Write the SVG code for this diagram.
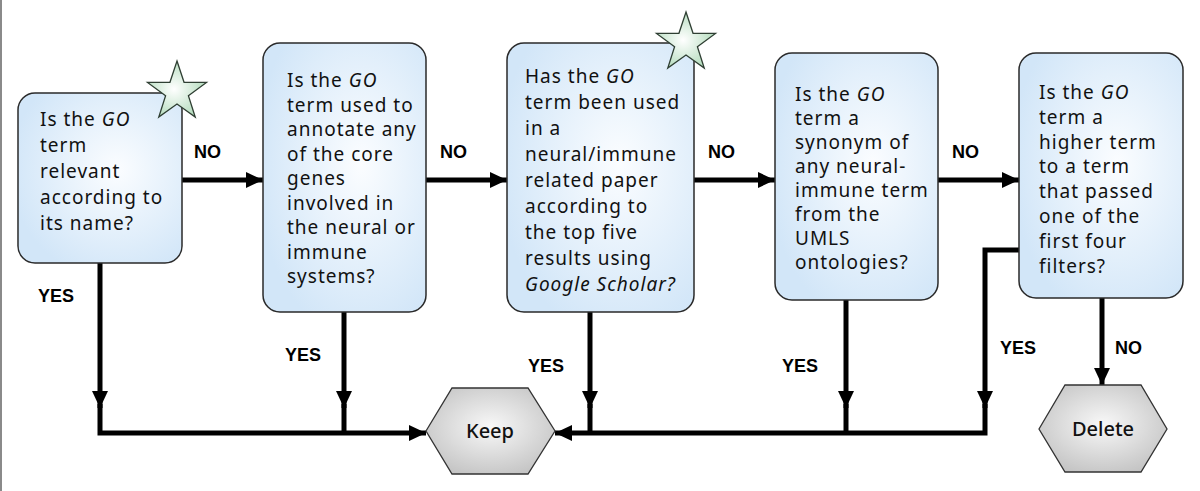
<svg xmlns="http://www.w3.org/2000/svg" width="1200" height="491" viewBox="0 0 1200 491">
<defs>
<radialGradient id="boxg" cx="60%" cy="45%" r="65%">
<stop offset="0" stop-color="#fbfdff"/>
<stop offset="1" stop-color="#d2e6f8"/>
</radialGradient>
<radialGradient id="hexg" cx="50%" cy="45%" r="60%">
<stop offset="0" stop-color="#f8f8f8"/>
<stop offset="1" stop-color="#c4c4c4"/>
</radialGradient>
<radialGradient id="starg" cx="45%" cy="50%" r="55%">
<stop offset="0" stop-color="#ffffff"/>
<stop offset="1" stop-color="#b4dcbd"/>
</radialGradient>
<marker id="ah" markerWidth="17" markerHeight="16" refX="17" refY="8" orient="auto" markerUnits="userSpaceOnUse">
<path d="M0,0 L17,8 L0,16 z" fill="#000"/>
</marker>
<polygon id="star" points="0,-31 7.05,-9.71 29.48,-9.58 11.41,3.71 18.22,25.08 0,12 -18.22,25.08 -11.41,3.71 -29.48,-9.58 -7.05,-9.71"/>
</defs>
<style>
.box{fill:url(#boxg);stroke:#2a2a2a;stroke-width:1.5}
.hex{fill:url(#hexg);stroke:#333;stroke-width:1.3}
.star{fill:url(#starg);stroke:#2f3f33;stroke-width:1.3;stroke-linejoin:miter}
.t{font-family:"Noto Sans","DejaVu Sans",sans-serif;font-size:19px;letter-spacing:1px;fill:#111}
.i{font-style:italic}
.lbl{font-family:"Liberation Sans",Arial,sans-serif;font-size:18px;font-weight:bold;fill:#000}
.ht{font-family:"Noto Sans","DejaVu Sans",sans-serif;font-size:20px;font-weight:500;fill:#111;text-anchor:middle}
.c{fill:none;stroke:#000;stroke-width:5;stroke-linejoin:miter;stroke-linecap:butt}
</style>
<rect x="0" y="0" width="1200" height="491" fill="#fff"/>
<line x1="1" y1="0" x2="1" y2="491" stroke="#8a8a8a" stroke-width="2"/>

<g id="connectors">
<path class="c" d="M182,180 H263" marker-end="url(#ah)"/>
<path class="c" d="M426,180 H507" marker-end="url(#ah)"/>
<path class="c" d="M694,180 H775" marker-end="url(#ah)"/>
<path class="c" d="M938,180 H1019" marker-end="url(#ah)"/>
<path class="c" d="M100,263 V408" marker-end="url(#ah)"/>
<path class="c" d="M100,404 V433 H426" marker-end="url(#ah)"/>
<path class="c" d="M344,312 V408" marker-end="url(#ah)"/>
<path class="c" d="M344,404 V433"/>
<path class="c" d="M590,312 V408" marker-end="url(#ah)"/>
<path class="c" d="M590,404 V433"/>
<path class="c" d="M846,300 V408" marker-end="url(#ah)"/>
<path class="c" d="M846,404 V433"/>
<path class="c" d="M1019,250 H985 V408" marker-end="url(#ah)"/>
<path class="c" d="M985,404 V433 H555" marker-end="url(#ah)"/>
<path class="c" d="M1102,298 V385" marker-end="url(#ah)"/>
<text class="lbl" x="194" y="158">NO</text>
<text class="lbl" x="440" y="158">NO</text>
<text class="lbl" x="708" y="158">NO</text>
<text class="lbl" x="952" y="158">NO</text>
<text class="lbl" x="38" y="302">YES</text>
<text class="lbl" x="285" y="361">YES</text>
<text class="lbl" x="528" y="372">YES</text>
<text class="lbl" x="782" y="372">YES</text>
<text class="lbl" x="1000" y="354">YES</text>
<text class="lbl" x="1115" y="354">NO</text>
</g>

<g id="q1">
<rect class="box" x="18" y="93" width="164" height="170" rx="17"/>
<use href="#star" class="star" x="177" y="92"/>
<text class="t" x="40" y="126"><tspan>Is the <tspan class="i">GO</tspan></tspan><tspan x="40" dy="26">term</tspan><tspan x="40" dy="26">relevant</tspan><tspan x="40" dy="26">according to</tspan><tspan x="40" dy="26">its name?</tspan></text>
</g>

<g id="q2">
<rect class="box" x="263" y="43" width="163" height="269" rx="17"/>
<text class="t" x="287" y="87"><tspan>Is the <tspan class="i">GO</tspan></tspan><tspan x="287" dy="24.5">term used to</tspan><tspan x="287" dy="24.5">annotate any</tspan><tspan x="287" dy="24.5">of the core</tspan><tspan x="287" dy="24.5">genes</tspan><tspan x="287" dy="24.5">involved in</tspan><tspan x="287" dy="24.5">the neural or</tspan><tspan x="287" dy="24.5">immune</tspan><tspan x="287" dy="24.5">systems?</tspan></text>
</g>

<g id="q3">
<rect class="box" x="507" y="43" width="187" height="269" rx="17"/>
<use href="#star" class="star" x="686" y="43"/>
<text class="t" x="525" y="83"><tspan>Has the <tspan class="i">GO</tspan></tspan><tspan x="525" dy="26">term been used</tspan><tspan x="525" dy="26">in a</tspan><tspan x="525" dy="26">neural/immune</tspan><tspan x="525" dy="26">related paper</tspan><tspan x="525" dy="26">according to</tspan><tspan x="525" dy="26">the top five</tspan><tspan x="525" dy="26">results using</tspan><tspan x="525" dy="26" class="i">Google Scholar?</tspan></text>
</g>

<g id="q4">
<rect class="box" x="775" y="53" width="163" height="247" rx="17"/>
<text class="t" x="795" y="101"><tspan>Is the <tspan class="i">GO</tspan></tspan><tspan x="795" dy="24">term a</tspan><tspan x="795" dy="24">synonym of</tspan><tspan x="795" dy="24">any neural-</tspan><tspan x="795" dy="24">immune term</tspan><tspan x="795" dy="24">from the</tspan><tspan x="795" dy="24">UMLS</tspan><tspan x="795" dy="24">ontologies?</tspan></text>
</g>

<g id="q5">
<rect class="box" x="1019" y="53" width="164" height="245" rx="17"/>
<text class="t" x="1039" y="99"><tspan>Is the <tspan class="i">GO</tspan></tspan><tspan x="1039" dy="24.8">term a</tspan><tspan x="1039" dy="24.8">higher term</tspan><tspan x="1039" dy="24.8">to a term</tspan><tspan x="1039" dy="24.8">that passed</tspan><tspan x="1039" dy="24.8">one of the</tspan><tspan x="1039" dy="24.8">first four</tspan><tspan x="1039" dy="24.8">filters?</tspan></text>
</g>

<g id="keep">
<polygon class="hex" points="426,431 452,388 528,388 555,431 528,474 452,474"/>
<text class="ht" x="490" y="438">Keep</text>
</g>

<g id="delete">
<polygon class="hex" points="1039,429 1065,385 1141,385 1167,429 1141,472 1065,472"/>
<text class="ht" x="1103" y="436">Delete</text>
</g>
</svg>
